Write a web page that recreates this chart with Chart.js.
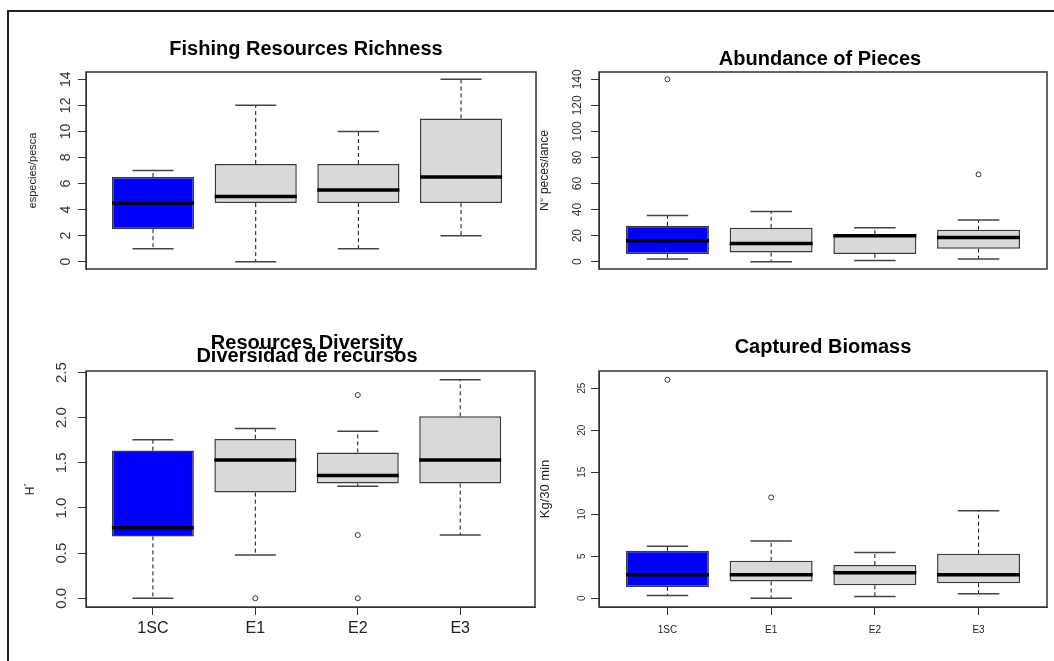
<!DOCTYPE html>
<html lang="en">
<head>
<meta charset="UTF-8">
<title>Fishing resources - boxplots</title>
<script src="https://cdn.jsdelivr.net/npm/chart.js"></script>
<style>
  body { margin: 0; background: #fff; width: 1054px; height: 661px; overflow: hidden; position: relative; }
  .frame { position: absolute; left: 7px; top: 10px; right: 0; bottom: 0; border-top: 2px solid #222; border-left: 2px solid #222; }
  canvas { position: absolute; }
</style>
</head>
<body>
<div class="frame"></div>
<canvas id="rich" width="540" height="330" style="left:0;top:0"></canvas>
<canvas id="abun" width="514" height="330" style="left:540px;top:0"></canvas>
<canvas id="div" width="540" height="331" style="left:0;top:330px"></canvas>
<canvas id="bio" width="514" height="331" style="left:540px;top:330px"></canvas>
<script>
const groups = ['1SC', 'E1', 'E2', 'E3'];
const fills = ['#0000ff', '#d9d9d9', '#d9d9d9', '#d9d9d9'];

// Fishing Resources Richness (especies/pesca)
const richMin = [1, 0, 1, 2];
const richQ1 = [2.5, 4.5, 4.5, 4.5];
const richMed = [4.5, 5, 5.5, 6.5];
const richQ3 = [6.5, 7.5, 7.5, 11];
const richMax = [7, 12, 10, 14];
const richOut = [[], [], [], []];
const richTicks = [0, 2, 4, 6, 8, 10, 12, 14];

// Abundance of Pieces (N° peces/lance)
const abunMin = [2, 0, 1, 2];
const abunQ1 = [6, 7, 6, 10];
const abunMed = [16, 14, 20, 18.5];
const abunQ3 = [27.5, 26, 21, 24.5];
const abunMax = [35.5, 38.5, 26, 32];
const abunOut = [[140], [], [], [67]];
const abunTicks = [0, 20, 40, 60, 80, 100, 120, 140];

// Resources Diversity (H')
const divMin = [0, 0.48, 1.24, 0.70];
const divQ1 = [0.685, 1.17, 1.27, 1.27];
const divMed = [0.78, 1.53, 1.36, 1.53];
const divQ3 = [1.635, 1.765, 1.615, 2.015];
const divMax = [1.755, 1.88, 1.85, 2.42];
const divOut = [[], [0], [0, 0.70, 2.25], []];
const divTicks = [0, 0.5, 1, 1.5, 2, 2.5];

// Captured Biomass (Kg/30 min)
const bioMin = [0.32, 0, 0.2, 0.55];
const bioQ1 = [1.35, 2.0, 1.55, 1.8];
const bioMed = [2.8, 2.8, 3.05, 2.8];
const bioQ3 = [5.65, 4.45, 3.95, 5.3];
const bioMax = [6.2, 6.8, 5.45, 10.4];
const bioOut = [[26], [12], [], []];
const bioTicks = [0, 5, 10, 15, 20, 25];

const FONT = '"Liberation Sans", Arial, sans-serif';

// frame, titles and R-style (rotated) y labels
const rDecor = {
  id: 'rDecor',
  afterDraw(chart, args, o) {
    const ctx = chart.ctx, a = chart.chartArea, ys = chart.scales.y;
    ctx.save();
    ctx.strokeStyle = '#333';
    ctx.lineWidth = 1.5;
    ctx.strokeRect(a.left, a.top, a.right - a.left, a.bottom - a.top);

    ctx.textAlign = 'center';
    ctx.textBaseline = 'middle';
    ctx.fillStyle = '#000';
    ctx.font = 'bold 20px ' + FONT;
    o.title.forEach((t, i) => ctx.fillText(t, o.titleX, o.titleY + i * 13));

    ctx.fillStyle = '#333';
    ctx.font = o.tickSize + 'px ' + FONT;
    ys.ticks.forEach((t, i) => {
      ctx.save();
      ctx.translate(a.left - o.tickOffset, ys.getPixelForValue(t.value));
      ctx.rotate(-Math.PI / 2);
      ctx.fillText(o.tickLabels[i], 0, 0);
      ctx.restore();
    });

    ctx.fillStyle = '#222';
    ctx.font = o.yTitleSize + 'px ' + FONT;
    ctx.translate(o.yTitleX, (a.top + a.bottom) / 2);
    ctx.rotate(-Math.PI / 2);
    ctx.fillText(o.yTitle, 0, 0);
    ctx.restore();
  }
};

function boxplot(id, d, o) {
  const all = d.min.concat(d.max, d.out.flat());
  const lo = Math.min(...all), hi = Math.max(...all), ext = (hi - lo) * 0.04;

  const boxes = [], whiskers = [], staples = [], medians = [], outliers = [];
  groups.forEach((g, i) => {
    const x = i + 1;
    boxes.push({ x: x, y: [d.q1[i], d.q3[i]] });
    whiskers.push({ x: x, y: d.q3[i] }, { x: x, y: d.max[i] }, { x: x, y: null },
                  { x: x, y: d.q1[i] }, { x: x, y: d.min[i] }, { x: x, y: null });
    staples.push({ x: x - 0.2, y: d.max[i] }, { x: x + 0.2, y: d.max[i] }, { x: x, y: null },
                 { x: x - 0.2, y: d.min[i] }, { x: x + 0.2, y: d.min[i] }, { x: x, y: null });
    medians.push({ x: x - 0.4, y: d.med[i] }, { x: x + 0.4, y: d.med[i] }, { x: x, y: null });
    d.out[i].forEach(v => outliers.push({ x: x, y: v }));
  });

  new Chart(document.getElementById(id), {
    type: 'bar',
    data: {
      datasets: [
        { data: boxes, backgroundColor: fills, borderColor: '#3a3a3a', borderWidth: 1.5,
          borderSkipped: false, categoryPercentage: 0.8, barPercentage: 1, order: 5 },
        { type: 'line', data: whiskers, borderColor: '#111', borderWidth: 1, borderDash: [4, 3],
          pointRadius: 0, spanGaps: false, order: 3 },
        { type: 'line', data: staples, borderColor: '#444', borderWidth: 1.5,
          pointRadius: 0, spanGaps: false, order: 2 },
        { type: 'line', data: medians, borderColor: '#000', borderWidth: 3.5,
          pointRadius: 0, spanGaps: false, order: 1 },
        { type: 'scatter', data: outliers, pointRadius: 2.5, pointBorderWidth: 1,
          pointBorderColor: '#333', pointBackgroundColor: 'rgba(0,0,0,0)', order: 0 }
      ]
    },
    options: {
      responsive: false,
      devicePixelRatio: 1,
      animation: false,
      events: [],
      layout: { padding: o.padding },
      plugins: {
        legend: { display: false },
        tooltip: { enabled: false },
        rDecor: {
          title: o.title, titleX: o.titleX, titleY: o.titleY,
          tickLabels: d.tickLabels, tickSize: o.tickSize, tickOffset: o.tickOffset,
          yTitle: o.yTitle, yTitleX: o.yTitleX, yTitleSize: o.yTitleSize
        }
      },
      scales: {
        x: {
          type: 'linear',
          min: o.xMin, max: o.xMax,
          offset: false,
          display: o.xLabels,
          afterBuildTicks: s => { s.ticks = groups.map((g, i) => ({ value: i + 1 })); },
          afterFit: s => { s.height = 40; },
          ticks: {
            callback: v => groups[v - 1],
            font: { family: FONT, size: o.xLabelSize },
            color: '#222',
            padding: o.xLabelPad,
            maxRotation: 0
          },
          grid: { offset: false, drawOnChartArea: false, drawTicks: true, tickLength: 8, color: '#333' },
          border: { display: true, color: '#333' }
        },
        y: {
          type: 'linear',
          min: lo - ext, max: hi + ext,
          afterBuildTicks: s => { s.ticks = d.ticks.map(v => ({ value: v })); },
          afterFit: s => { s.width = o.yWidth; },
          ticks: { display: false },
          grid: { drawOnChartArea: false, drawTicks: true, tickLength: 8, color: '#333' },
          border: { display: true, color: '#333' }
        }
      }
    },
    plugins: [rDecor]
  });
}

boxplot('rich',
  { min: richMin, q1: richQ1, med: richMed, q3: richQ3, max: richMax, out: richOut,
    ticks: richTicks, tickLabels: richTicks.map(String) },
  { title: ['Fishing Resources Richness'], titleX: 306, titleY: 49,
    yTitle: 'especies/pesca', yTitleX: 33, yTitleSize: 11,
    tickSize: 14, tickOffset: 20, yWidth: 86,
    xMin: 0.347, xMax: 4.73, xLabels: false,
    padding: { left: 0, top: 72, right: 4, bottom: 21 } });

boxplot('abun',
  { min: abunMin, q1: abunQ1, med: abunMed, q3: abunQ3, max: abunMax, out: abunOut,
    ticks: abunTicks, tickLabels: abunTicks.map(String) },
  { title: ['Abundance of Pieces'], titleX: 280, titleY: 59,
    yTitle: 'N° peces/lance', yTitleX: 5, yTitleSize: 12,
    tickSize: 12, tickOffset: 21, yWidth: 59,
    xMin: 0.34, xMax: 4.66, xLabels: false,
    padding: { left: 0, top: 72, right: 7, bottom: 21 } });

boxplot('div',
  { min: divMin, q1: divQ1, med: divMed, q3: divQ3, max: divMax, out: divOut,
    ticks: divTicks, tickLabels: divTicks.map(v => v.toFixed(1)) },
  { title: ['Resources Diversity', 'Diversidad de recursos'], titleX: 307, titleY: 13,
    yTitle: 'H´', yTitleX: 31, yTitleSize: 12,
    tickSize: 15, tickOffset: 24, yWidth: 86,
    xMin: 0.347, xMax: 4.73, xLabels: true, xLabelSize: 16, xLabelPad: 4,
    padding: { left: 0, top: 41, right: 4, bottom: 14 } });

boxplot('bio',
  { min: bioMin, q1: bioQ1, med: bioMed, q3: bioQ3, max: bioMax, out: bioOut,
    ticks: bioTicks, tickLabels: bioTicks.map(String) },
  { title: ['Captured Biomass'], titleX: 283, titleY: 17,
    yTitle: 'Kg/30 min', yTitleX: 5, yTitleSize: 13,
    tickSize: 10, tickOffset: 17, yWidth: 59,
    xMin: 0.34, xMax: 4.66, xLabels: true, xLabelSize: 10, xLabelPad: 9,
    padding: { left: 0, top: 41, right: 7, bottom: 14 } });
</script>
</body>
</html>
